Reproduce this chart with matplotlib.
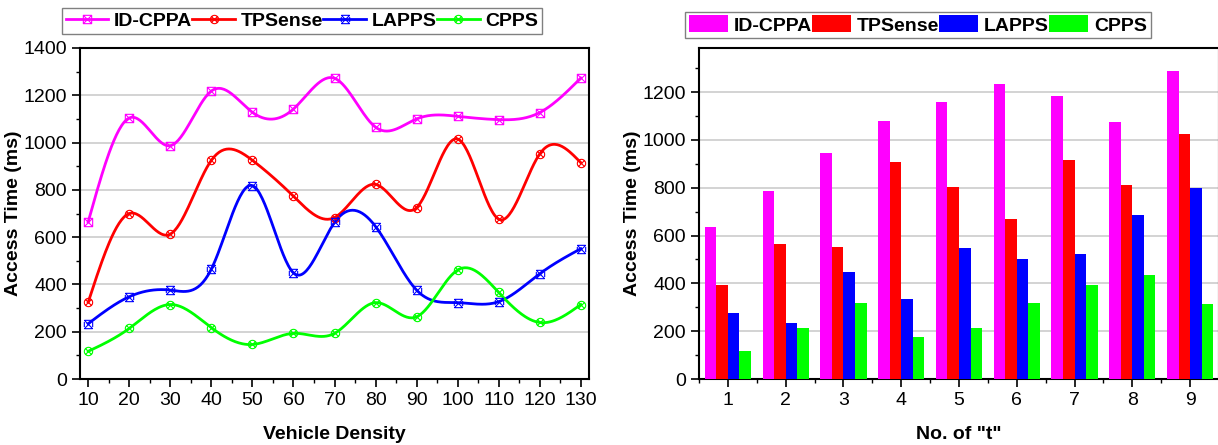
import numpy as np
import matplotlib
matplotlib.use('Agg')
import matplotlib.pyplot as plt
from matplotlib.path import Path
from matplotlib.ticker import MultipleLocator

plt.rcParams['font.family'] = ['Liberation Sans', 'DejaVu Sans']

# 左图数据
density = [10, 20, 30, 40, 50, 60, 70, 80, 90, 100, 110, 120, 130]
line_idcppa = [665, 1104, 987, 1218, 1128, 1142, 1272, 1065, 1100, 1111, 1097, 1127, 1273]
line_tpsense = [325, 700, 613, 925, 925, 773, 683, 823, 725, 1015, 676, 952, 915]
line_lapps = [234, 348, 376, 465, 818, 449, 662, 645, 376, 323, 327, 445, 551]
line_cpps = [117, 214, 315, 217, 146, 193, 193, 323, 263, 461, 366, 239, 315]

# 右图数据
t_labels = ['1', '2', '3', '4', '5', '6', '7', '8', '9']
bar_idcppa = [635, 786, 947, 1077, 1160, 1232, 1183, 1074, 1286]
bar_tpsense = [392, 565, 554, 908, 802, 670, 917, 813, 1025]
bar_lapps = [276, 234, 449, 333, 547, 500, 522, 685, 800]
bar_cpps = [119, 215, 318, 176, 212, 318, 391, 435, 314]

names = ['ID-CPPA', 'TPSense', 'LAPPS', 'CPPS']
colors = ['#FF00FF', '#FF0000', '#0000FF', '#00FF00']

W, H = 1218, 445


def spline(x, y, n=400):
    """natural cubic spline, only for drawing the smooth line"""
    x = np.asarray(x, float)
    y = np.asarray(y, float)
    k = len(x)
    h = np.diff(x)
    A = np.zeros((k, k))
    b = np.zeros(k)
    A[0, 0] = A[-1, -1] = 1
    for i in range(1, k - 1):
        A[i, i - 1] = h[i - 1]
        A[i, i] = 2 * (h[i - 1] + h[i])
        A[i, i + 1] = h[i]
        b[i] = 6 * ((y[i + 1] - y[i]) / h[i] - (y[i] - y[i - 1]) / h[i - 1])
    m = np.linalg.solve(A, b)
    xs = np.linspace(x[0], x[-1], n)
    idx = np.clip(np.searchsorted(x, xs) - 1, 0, k - 2)
    x0, x1 = x[idx], x[idx + 1]
    hh = x1 - x0
    a = (x1 - xs) / hh
    c = (xs - x0) / hh
    ys = (a * y[idx] + c * y[idx + 1]
          + ((a ** 3 - a) * m[idx] + (c ** 3 - c) * m[idx + 1]) * hh ** 2 / 6)
    return xs, ys


def sq_x():
    v = [(-1, -1), (1, -1), (1, 1), (-1, 1), (-1, -1), (-1, -1), (1, 1), (-1, 1), (1, -1)]
    c = [Path.MOVETO, Path.LINETO, Path.LINETO, Path.LINETO, Path.CLOSEPOLY,
         Path.MOVETO, Path.LINETO, Path.MOVETO, Path.LINETO]
    return Path(v, c)


def circ_x():
    t = np.linspace(0, 2 * np.pi, 33)
    v = list(zip(np.cos(t), np.sin(t)))
    c = [Path.MOVETO] + [Path.LINETO] * 32
    d = 0.7
    v += [(-d, -d), (d, d), (-d, d), (d, -d)]
    c += [Path.MOVETO, Path.LINETO, Path.MOVETO, Path.LINETO]
    return Path(v, c)


def hourglass():
    v = [(-1, -1), (1, 1), (-1, 1), (1, -1), (-1, 1), (1, 1), (-1, -1), (1, -1),
         (-1, 0.6), (-1, -0.6), (1, 0.6), (1, -0.6)]
    c = [Path.MOVETO, Path.LINETO] * 6
    return Path(v, c)


markers = [sq_x(), circ_x(), hourglass(), circ_x()]

fig = plt.figure(figsize=(W / 100, H / 100), dpi=100)

# 左图：折线
ax1 = fig.add_axes([80 / W, 1 - 379 / H, 509 / W, 331 / H])
series = [line_idcppa, line_tpsense, line_lapps, line_cpps]
for s, name, col, mk in zip(series, names, colors, markers):
    xs, ys = spline(density, s)
    ax1.plot(xs, ys, color=col, lw=2, zorder=3)
    ax1.plot(density, s, ls='none', marker=mk, ms=6, mfc='none', mec=col,
             mew=0.8, zorder=4)
    ax1.plot([], [], color=col, lw=2, marker=mk, ms=6, mfc='none', mec=col,
             mew=0.8, label=name)
ax1.set_xlim(8, 132)
ax1.set_ylim(0, 1400)
ax1.set_xticks(density)
ax1.xaxis.set_minor_locator(MultipleLocator(5))
ax1.yaxis.set_major_locator(MultipleLocator(200))
ax1.yaxis.set_minor_locator(MultipleLocator(100))
ax1.grid(axis='y', color='#cccccc', lw=1.2)
ax1.set_axisbelow(True)
ax1.set_xlabel('Vehicle Density', fontsize=14, fontweight='bold', labelpad=12)
ax1.set_ylabel('Access Time (ms)', fontsize=14, fontweight='bold')
ax1.yaxis.set_label_coords(-0.114, 0.5)
ax1.legend(loc='center', bbox_to_anchor=(302 / W, 1 - 21 / H),
           bbox_transform=fig.transFigure, ncol=4, fancybox=False,
           edgecolor='#808080', framealpha=1, handlelength=2.2,
           handletextpad=0.3, columnspacing=0.0, borderpad=0.2,
           borderaxespad=0, prop={'weight': 'bold', 'size': 14})

# 右图：柱状
ax2 = fig.add_axes([699 / W, 1 - 379 / H, 520 / W, 331 / H])
x = np.arange(1, len(t_labels) + 1)
bars = [bar_idcppa, bar_tpsense, bar_lapps, bar_cpps]
w = 0.2
for i, (s, name, col) in enumerate(zip(bars, names, colors)):
    ax2.bar(x + (i - 1.5) * w, s, width=w, color=col, label=name, zorder=3)
ax2.set_xlim(0.5, 9.5)
ax2.set_ylim(0, 1384)
ax2.set_xticks(x)
ax2.set_xticklabels(t_labels)
ax2.xaxis.set_minor_locator(MultipleLocator(0.5))
ax2.yaxis.set_major_locator(MultipleLocator(200))
ax2.yaxis.set_minor_locator(MultipleLocator(100))
ax2.grid(axis='y', color='#cccccc', lw=1.2)
ax2.set_axisbelow(True)
ax2.set_xlabel('No. of "t"', fontsize=14, fontweight='bold', labelpad=12)
ax2.set_ylabel('Access Time (ms)', fontsize=14, fontweight='bold')
ax2.yaxis.set_label_coords(-0.112, 0.5)
ax2.legend(loc='center', bbox_to_anchor=(918 / W, 1 - 25 / H),
           bbox_transform=fig.transFigure, ncol=4, fancybox=False,
           edgecolor='#808080', framealpha=1, handlelength=2.0,
           handleheight=0.95, handletextpad=0.3, columnspacing=0.0,
           borderpad=0.2, borderaxespad=0, prop={'weight': 'bold', 'size': 14})

for ax in (ax1, ax2):
    ax.tick_params(axis='both', which='major', direction='out', length=6,
                   width=1.2, labelsize=14)
    ax.tick_params(axis='both', which='minor', direction='out', length=3,
                   width=1)
    for sp in ax.spines.values():
        sp.set_linewidth(1.5)

fig.savefig('out.png', dpi=100)
